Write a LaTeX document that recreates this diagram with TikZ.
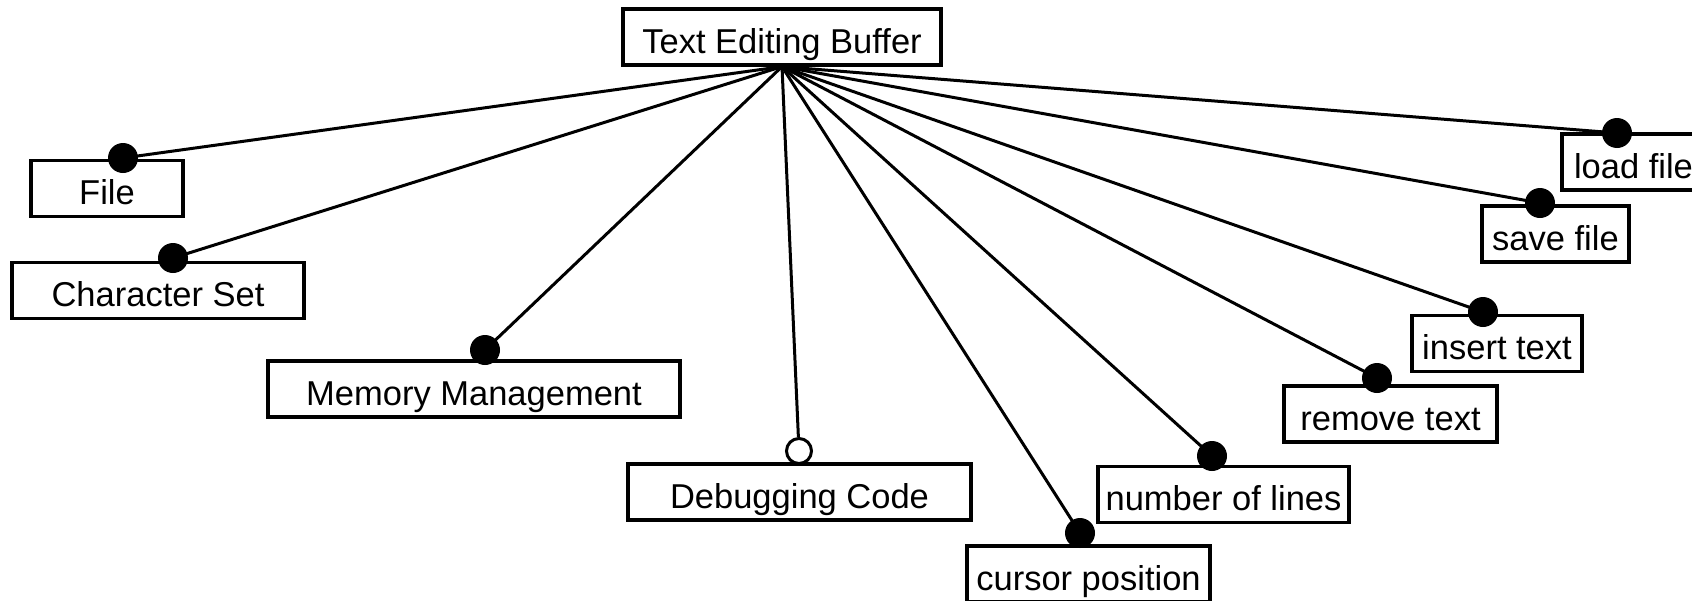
\documentclass[tikz,border=0pt]{standalone}
\usepackage{fontspec}
\setmainfont{Liberation Sans}
\usetikzlibrary{backgrounds}
\begin{document}
\begin{tikzpicture}[x=1pt,y=-1pt,
  box/.style={draw, line width=3.2pt, inner sep=0pt, text height=32pt, text depth=0pt,
              minimum height=56pt, font=\fontsize{34.5}{40}\selectfont},
  fdot/.style={circle, fill=black, inner sep=0pt, minimum size=30pt},
  odot/.style={circle, draw=black, fill=white, line width=3pt, inner sep=0pt, minimum size=25pt},
  conn/.style={line width=3pt}]
\useasboundingbox (0,0) rectangle (1692,600);
% boxes
\node[box, minimum width=318pt] (root)    at (782,37)     {Text Editing Buffer};
\node[box, minimum width=152pt] (file)    at (107,188.5)  {File};
\node[box, minimum width=292pt] (charset) at (158,290.5)  {Character Set};
\node[box, minimum width=412pt] (memory)  at (474,389)    {Memory Management};
\node[box, minimum width=343pt] (debug)   at (799.5,492)  {Debugging Code};
\node[box, minimum width=243pt] (cursor)  at (1088.5,574) {cursor position};
\node[box, minimum width=251pt] (lines)   at (1223.5,494.5) {number of lines};
\node[box, minimum width=213pt] (remove)  at (1390.5,414) {remove text};
\node[box, minimum width=170pt] (insert)  at (1497,343.5) {insert text};
\node[box, minimum width=147pt] (save)    at (1555.5,234) {save file};
\node[box, minimum width=143pt] (load)    at (1633.5,162) {load file};
% end markers
\node[fdot] (dfile)    at (123,158)  {};
\node[fdot] (dcharset) at (173,258)  {};
\node[fdot] (dmemory)  at (485,350)  {};
\node[odot] (ddebug)   at (799,451)  {};
\node[fdot] (dcursor)  at (1080,533) {};
\node[fdot] (dlines)   at (1212,456) {};
\node[fdot] (dremove)  at (1377,378) {};
\node[fdot] (dinsert)  at (1483,312) {};
\node[fdot] (dsave)    at (1540,203) {};
\node[fdot] (dload)    at (1617,133) {};
% connectors
\begin{pgfonlayer}{background}
\foreach \d in {dfile,dcharset,dmemory,dcursor,dlines,dremove,dinsert,dsave,dload}
  \draw[conn] (root.south) -- (\d.center);
\draw[conn] (root.south) -- (ddebug);
\end{pgfonlayer}
\end{tikzpicture}
\end{document}
